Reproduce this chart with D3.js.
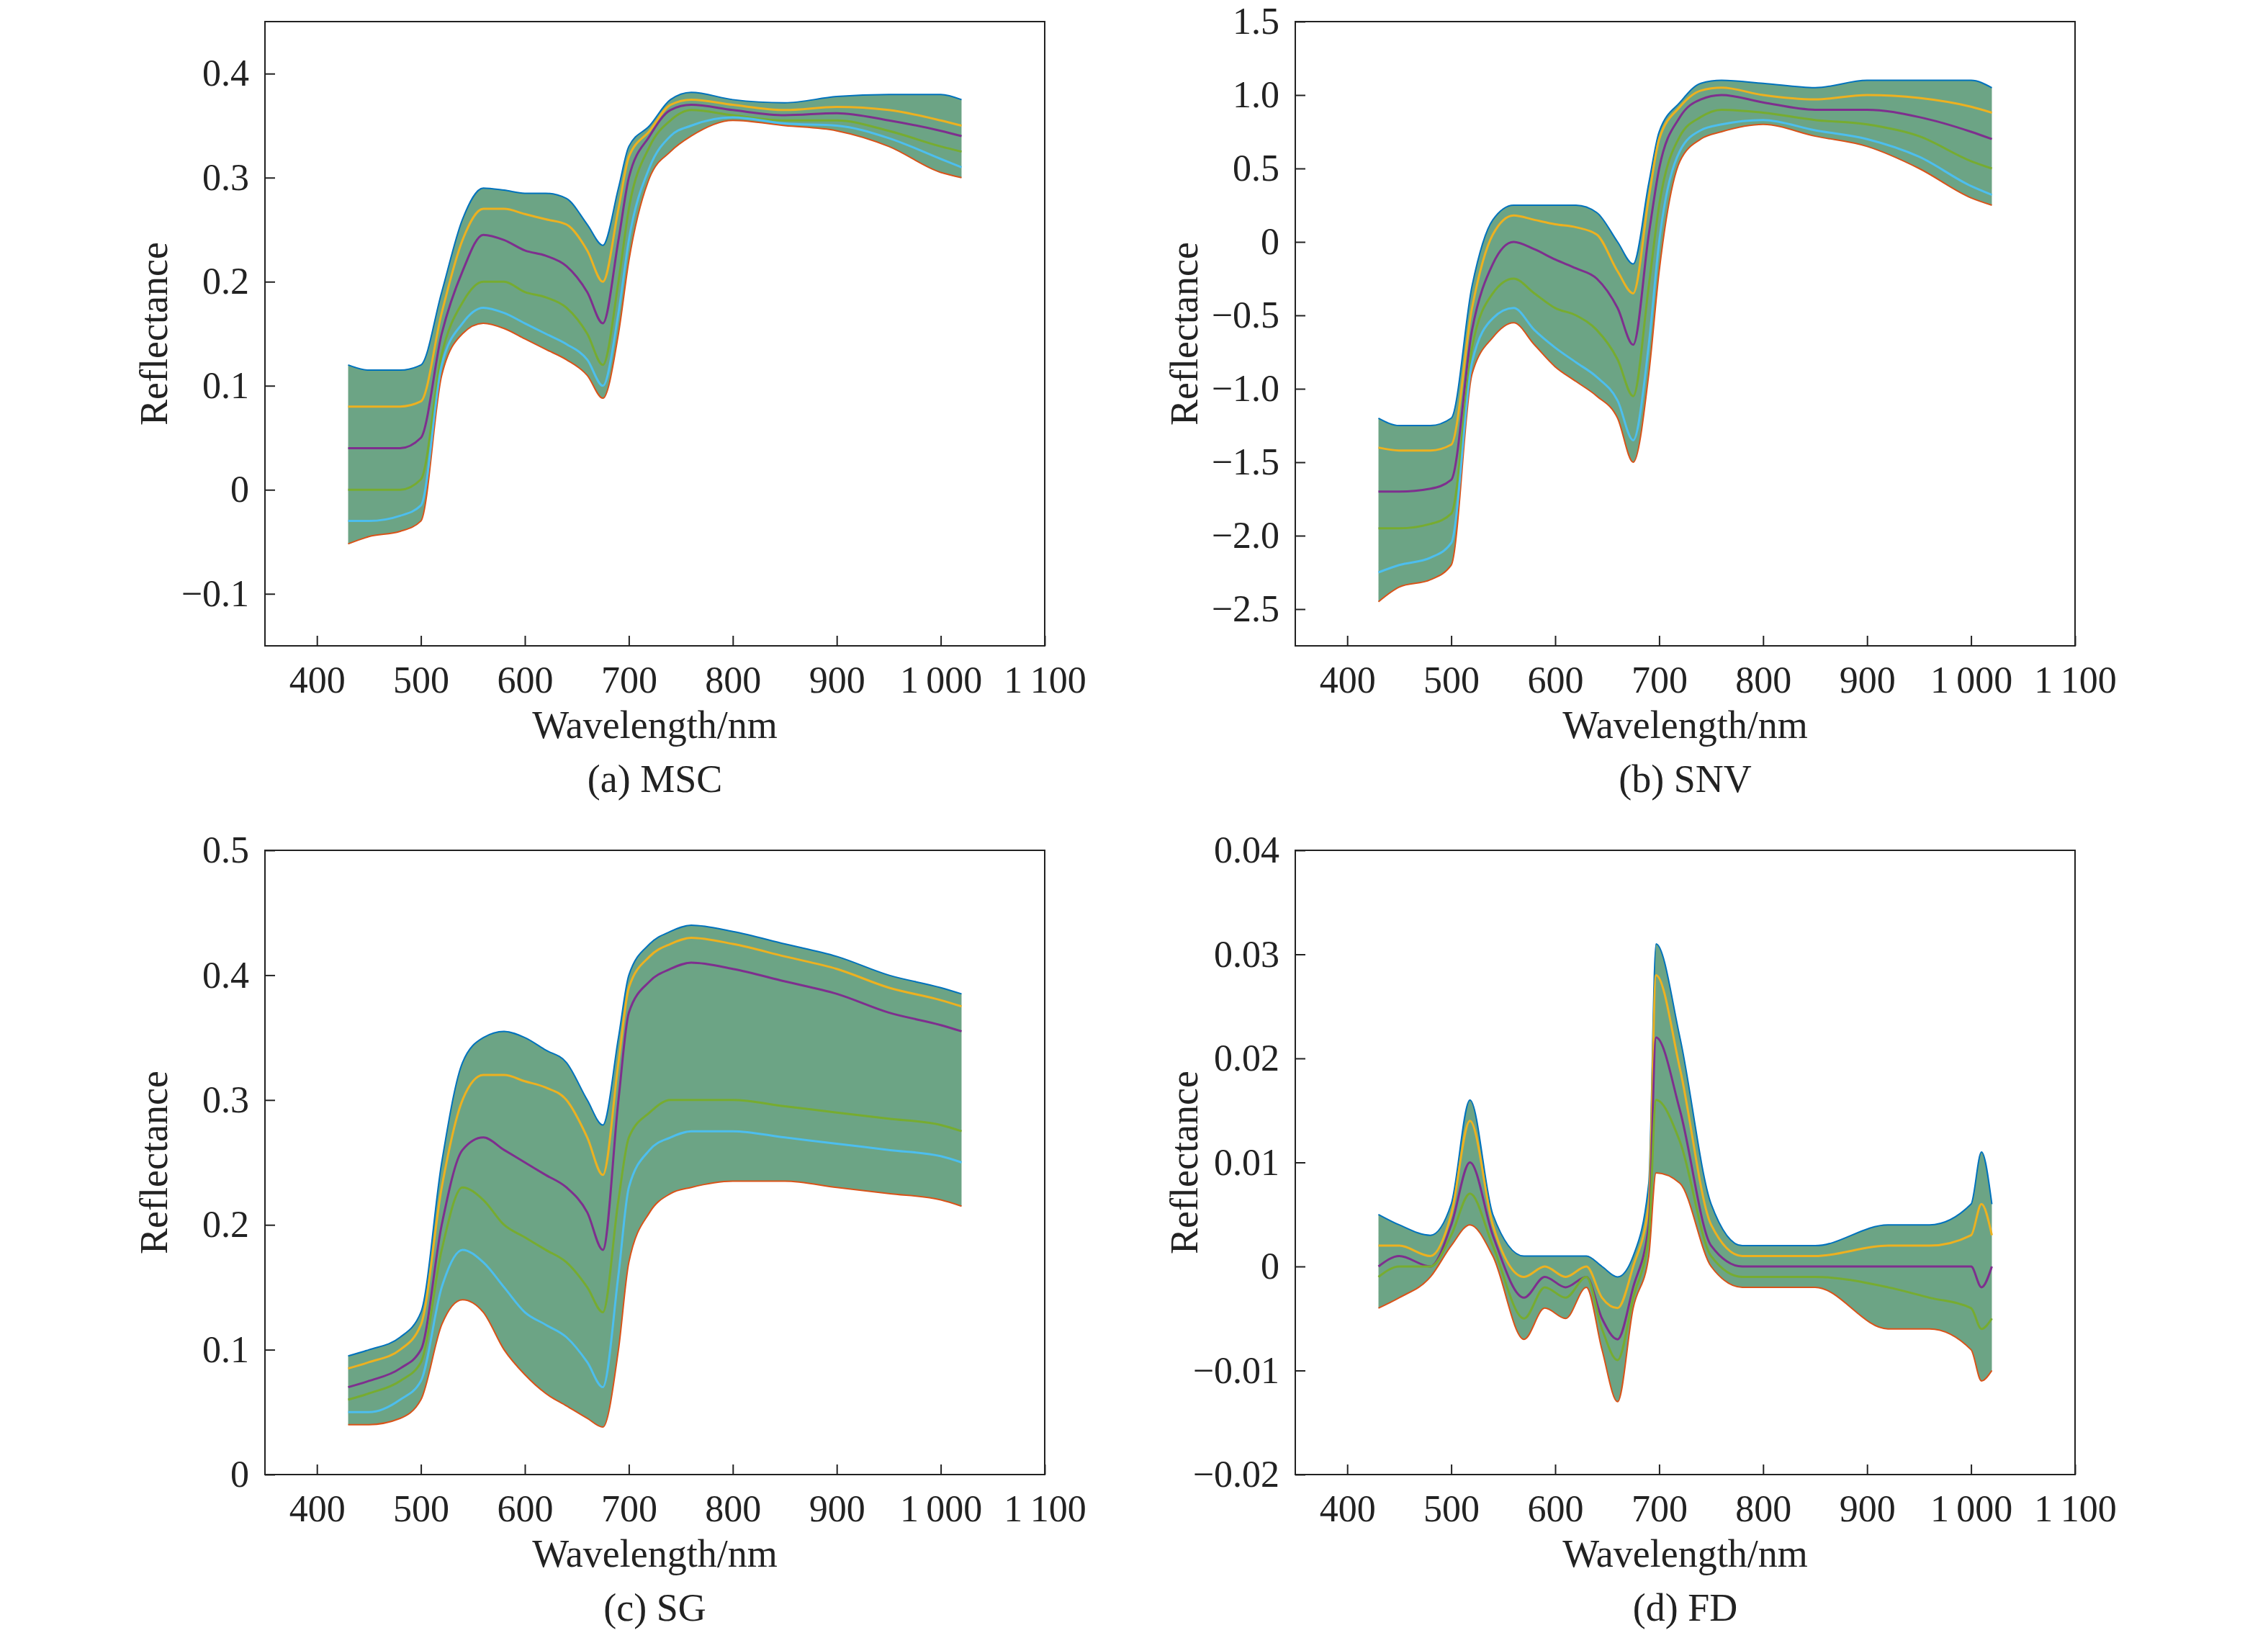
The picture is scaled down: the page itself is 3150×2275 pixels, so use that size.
<!DOCTYPE html>
<html>
<head>
<meta charset="utf-8">
<script src="https://cdn.jsdelivr.net/npm/d3@7"></script>
<style>
  body { margin: 0; background: #fff; }
</style>
</head>
<body>
<svg id="chart" width="3150" height="2275"></svg>
<script>
// wavelength samples (nm)
var wlA = [430, 450, 480, 500, 520, 540, 560, 580, 600, 620, 640, 660, 675, 690, 700, 720, 740, 760, 800, 850, 900, 950, 1000, 1020];
var wlD = [430, 450, 480, 500, 518, 540, 570, 590, 610, 630, 645, 660, 675, 690, 697, 720, 750, 780, 850, 920, 960, 1000, 1010, 1020];

// (a) MSC: envelope and a few traced curves
var mscUpper = [0.12, 0.115, 0.115, 0.12, 0.19, 0.26, 0.29, 0.288, 0.285, 0.285, 0.28, 0.255, 0.235, 0.29, 0.33, 0.35, 0.375, 0.382, 0.375, 0.372, 0.378, 0.38, 0.38, 0.375];
var mscLower = [-0.052, -0.045, -0.04, -0.03, 0.11, 0.15, 0.16, 0.155, 0.145, 0.135, 0.125, 0.11, 0.088, 0.15, 0.22, 0.3, 0.325, 0.34, 0.355, 0.35, 0.345, 0.33, 0.305, 0.3];
var mscCurves = [
  [0.08, 0.08, 0.08, 0.085, 0.17, 0.24, 0.27, 0.27, 0.265, 0.26, 0.255, 0.23, 0.2, 0.27, 0.32, 0.345, 0.37, 0.375, 0.37, 0.365, 0.368, 0.365, 0.355, 0.35],
  [0.04, 0.04, 0.04, 0.05, 0.15, 0.21, 0.245, 0.24, 0.23, 0.225, 0.215, 0.19, 0.16, 0.24, 0.3, 0.34, 0.365, 0.37, 0.365, 0.36, 0.362, 0.355, 0.345, 0.34],
  [0.0, 0.0, 0.0, 0.01, 0.13, 0.18, 0.2, 0.2, 0.19, 0.185, 0.175, 0.15, 0.12, 0.2, 0.27, 0.33, 0.355, 0.365, 0.36, 0.355, 0.355, 0.345, 0.33, 0.325],
  [-0.03, -0.03, -0.025, -0.015, 0.12, 0.16, 0.175, 0.17, 0.16, 0.15, 0.14, 0.125, 0.1, 0.17, 0.24, 0.31, 0.34, 0.35, 0.358, 0.352, 0.35, 0.338, 0.318, 0.31]
];

// (b) SNV
var snvUpper = [-1.2, -1.25, -1.25, -1.2, -0.3, 0.15, 0.25, 0.25, 0.25, 0.25, 0.2, 0.0, -0.15, 0.4, 0.75, 0.95, 1.08, 1.1, 1.08, 1.05, 1.1, 1.1, 1.1, 1.05];
var snvLower = [-2.45, -2.35, -2.3, -2.2, -0.9, -0.65, -0.55, -0.7, -0.85, -0.95, -1.05, -1.2, -1.5, -0.9, -0.2, 0.55, 0.7, 0.75, 0.8, 0.72, 0.65, 0.5, 0.3, 0.25];
var snvCurves = [
  [-1.4, -1.42, -1.42, -1.38, -0.45, 0.05, 0.18, 0.15, 0.12, 0.1, 0.05, -0.2, -0.35, 0.3, 0.7, 0.92, 1.03, 1.05, 1.0, 0.97, 1.0, 0.98, 0.92, 0.88],
  [-1.7, -1.7, -1.68, -1.62, -0.6, -0.15, 0.0, -0.05, -0.12, -0.18, -0.25, -0.45, -0.7, 0.05, 0.5, 0.85, 0.97, 1.0, 0.95, 0.9, 0.9, 0.85, 0.75, 0.7],
  [-1.95, -1.95, -1.92, -1.85, -0.72, -0.35, -0.25, -0.35, -0.45, -0.5, -0.6, -0.8, -1.05, -0.3, 0.25, 0.72, 0.85, 0.9, 0.88, 0.83, 0.8, 0.72, 0.55, 0.5],
  [-2.25, -2.2, -2.15, -2.05, -0.82, -0.52, -0.45, -0.6, -0.72, -0.82, -0.92, -1.08, -1.35, -0.7, 0.0, 0.62, 0.76, 0.8, 0.83, 0.76, 0.7, 0.58, 0.38, 0.32]
];

// (c) SG
var sgUpper = [0.095, 0.1, 0.11, 0.13, 0.25, 0.33, 0.35, 0.355, 0.35, 0.34, 0.33, 0.3, 0.28, 0.35, 0.4, 0.425, 0.435, 0.44, 0.435, 0.425, 0.415, 0.4, 0.39, 0.385];
var sgLower = [0.04, 0.04, 0.045, 0.06, 0.12, 0.14, 0.13, 0.1, 0.08, 0.065, 0.055, 0.045, 0.038, 0.1, 0.17, 0.21, 0.225, 0.23, 0.235, 0.235, 0.23, 0.225, 0.22, 0.215];
var sgCurves = [
  [0.085, 0.09, 0.1, 0.12, 0.23, 0.3, 0.32, 0.32, 0.315, 0.31, 0.3, 0.27, 0.24, 0.33, 0.39, 0.415, 0.425, 0.43, 0.425, 0.415, 0.405, 0.39, 0.38, 0.375],
  [0.07, 0.075, 0.085, 0.1, 0.2, 0.26, 0.27, 0.26, 0.25, 0.24, 0.23, 0.21, 0.18, 0.3, 0.37, 0.395, 0.405, 0.41, 0.405, 0.395, 0.385, 0.37, 0.36, 0.355],
  [0.06, 0.065, 0.075, 0.09, 0.18, 0.23, 0.22, 0.2, 0.19, 0.18, 0.17, 0.15, 0.13, 0.22, 0.27, 0.29, 0.3, 0.3, 0.3, 0.295, 0.29, 0.285, 0.28, 0.275],
  [0.05, 0.05, 0.06, 0.075, 0.15, 0.18, 0.17, 0.15, 0.13, 0.12, 0.11, 0.09, 0.07, 0.16, 0.23, 0.26, 0.27, 0.275, 0.275, 0.27, 0.265, 0.26, 0.255, 0.25]
];

// (d) FD
var fdUpper = [0.005, 0.004, 0.003, 0.006, 0.016, 0.005, 0.001, 0.001, 0.001, 0.001, 0.0, -0.001, 0.001, 0.008, 0.031, 0.022, 0.006, 0.002, 0.002, 0.004, 0.004, 0.006, 0.011, 0.006];
var fdLower = [-0.004, -0.003, -0.001, 0.002, 0.004, 0.001, -0.007, -0.004, -0.005, -0.002, -0.008, -0.013, -0.004, 0.001, 0.009, 0.008, 0.0, -0.002, -0.002, -0.006, -0.006, -0.008, -0.011, -0.01];
var fdCurves = [
  [0.002, 0.002, 0.001, 0.005, 0.014, 0.004, -0.001, 0.0, -0.001, 0.0, -0.003, -0.004, 0.0, 0.006, 0.028, 0.019, 0.004, 0.001, 0.001, 0.002, 0.002, 0.003, 0.006, 0.003],
  [0.0, 0.001, 0.0, 0.004, 0.01, 0.003, -0.003, -0.001, -0.002, -0.001, -0.005, -0.007, -0.002, 0.004, 0.022, 0.015, 0.002, 0.0, 0.0, 0.0, 0.0, 0.0, -0.002, 0.0],
  [-0.001, 0.0, 0.0, 0.003, 0.007, 0.002, -0.005, -0.002, -0.003, -0.001, -0.006, -0.009, -0.003, 0.003, 0.016, 0.012, 0.001, -0.001, -0.001, -0.002, -0.003, -0.004, -0.006, -0.005]
];

var panels = [
  {label: "(a) MSC", wl: wlA, up: mscUpper, lo: mscLower, curves: mscCurves, y: [-0.15, 0.45], ticks: [-0.1, 0, 0.1, 0.2, 0.3, 0.4], fmt: d3.format(".1f")},
  {label: "(b) SNV", wl: wlA, up: snvUpper, lo: snvLower, curves: snvCurves, y: [-2.75, 1.5], ticks: [-2.5, -2, -1.5, -1, -0.5, 0, 0.5, 1, 1.5], fmt: d3.format(".1f")},
  {label: "(c) SG", wl: wlA, up: sgUpper, lo: sgLower, curves: sgCurves, y: [0, 0.5], ticks: [0, 0.1, 0.2, 0.3, 0.4, 0.5], fmt: d3.format(".1f")},
  {label: "(d) FD", wl: wlD, up: fdUpper, lo: fdLower, curves: fdCurves, y: [-0.02, 0.04], ticks: [-0.02, -0.01, 0, 0.01, 0.02, 0.03, 0.04], fmt: d3.format(".2f")}
];
var xTicks = [400, 500, 600, 700, 800, 900, 1000, 1100];
var palette = ["#0072BD", "#D95319", "#EDB120", "#7E2F8E", "#77AC30", "#4DBEEE", "#A2142F"];

var FONT = "Liberation Serif";
var boxes = [[368, 30], [1799, 30], [368, 1181], [1799, 1181]];
var W = 1083, H = 867;
var svg = d3.select("#chart");

function numFmt(f) {
  return function(v) {
    if (v === 0) return "0";
    return (v < 0 ? "\u2212" : "") + f(Math.abs(v));
  };
}

panels.forEach(function(p, i) {
  var g = svg.append("g").attr("transform", "translate(" + boxes[i][0] + "," + boxes[i][1] + ")");
  var x = d3.scaleLinear().domain([350, 1100]).range([0, W]);
  var y = d3.scaleLinear().domain(p.y).range([H, 0]);
  var rows = p.wl.map(function(w, k) { return {w: w, up: p.up[k], lo: p.lo[k]}; });

  g.append("path").datum(rows)
    .attr("d", d3.area().x(function(d) { return x(d.w); }).y0(function(d) { return y(d.lo); }).y1(function(d) { return y(d.up); }).curve(d3.curveMonotoneX))
    .attr("fill", "#5c9a78").attr("fill-opacity", 0.9);

  var line = d3.line().x(function(d) { return x(d[0]); }).y(function(d) { return y(d[1]); }).curve(d3.curveMonotoneX);
  var all = [p.up, p.lo].concat(p.curves);
  all.forEach(function(c, k) {
    g.append("path").datum(p.wl.map(function(w, j) { return [w, c[j]]; }))
      .attr("d", line).attr("fill", "none")
      .attr("stroke", palette[k % palette.length]).attr("stroke-width", k < 2 ? 2 : 3);
  });

  // frame
  g.append("rect").attr("width", W).attr("height", H).attr("fill", "none").attr("stroke", "#222").attr("stroke-width", 2);

  var xa = g.append("g").attr("transform", "translate(0," + H + ")")
    .call(d3.axisBottom(x).tickValues(xTicks).tickSizeInner(-14).tickSizeOuter(0).tickPadding(28).tickFormat(function(v) {
      return v >= 1000 ? (Math.floor(v / 1000) + "\u2009" + String(v % 1000).padStart(3, "0")) : v;
    }));
  var ya = g.append("g")
    .call(d3.axisLeft(y).tickValues(p.ticks).tickSizeInner(-14).tickSizeOuter(0).tickPadding(22).tickFormat(numFmt(p.fmt)));
  [xa, ya].forEach(function(a) {
    a.attr("font-family", FONT);
    a.select(".domain").remove();
    a.selectAll("line").attr("stroke", "#222").attr("stroke-width", 2);
    a.selectAll("text").attr("font-family", FONT).attr("font-size", 52).attr("fill", "#222");
  });

  function label(t) {
    return g.append("text").attr("text-anchor", "middle").attr("font-family", FONT).attr("font-size", 54).attr("fill", "#222").text(t);
  }
  label("Wavelength/nm").attr("x", W / 2).attr("y", H + 128);
  label(p.label).attr("x", W / 2).attr("y", H + 203);
  label("Reflectance").attr("transform", "translate(-136," + (H / 2) + ") rotate(-90)");
});
</script>
</body>
</html>
